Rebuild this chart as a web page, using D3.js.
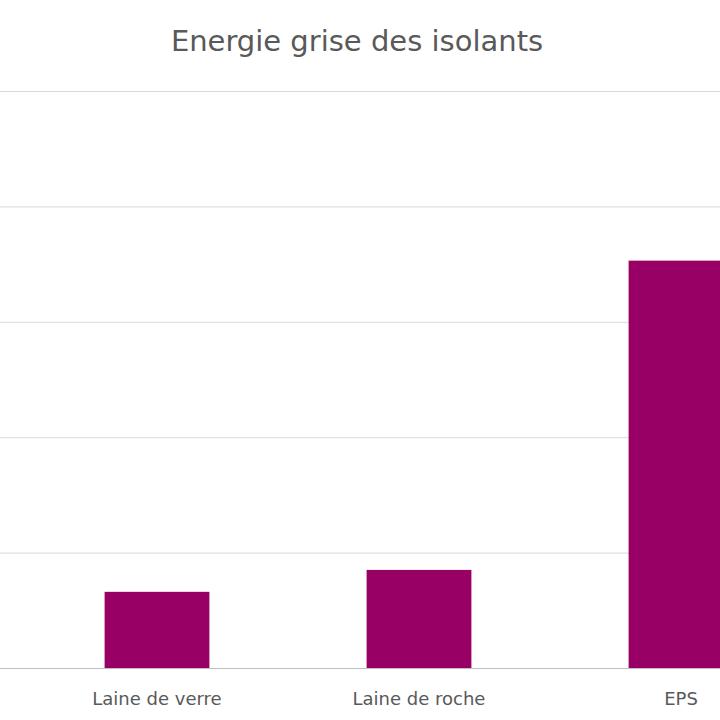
<!DOCTYPE html>
<html><head><meta charset="utf-8">
<script src="https://cdn.jsdelivr.net/npm/d3@7"></script>
<style>body{margin:0;background:#fff}</style>
</head><body>
<svg id="chart" width="720" height="720"></svg>
<script>
var categories = ["Laine de verre", "Laine de roche", "EPS"]
var values = [0.66, 0.85, 3.53]
var yTicks = [0, 1, 2, 3, 4, 5]

var svg = d3.select("#chart")

var x = d3.scaleBand().domain(categories).range([26, 812])
    .paddingInner(0.6).paddingOuter(0.3)
var y = d3.scaleLinear().domain([0, 5]).range([668, 91])

svg.append("g").selectAll("line.grid")
    .data(yTicks)
    .join("line")
    .attr("x1", 0).attr("x2", 720)
    .attr("y1", d => y(d) + 0.5).attr("y2", d => y(d) + 0.5)
    .style("stroke", d => d === 0 ? "#bfbfbf" : "#d9d9d9")
    .style("stroke-width", "1px")

svg.append("g").selectAll("rect.bar")
    .data(values)
    .join("rect")
    .attr("x", (d, i) => x(categories[i]))
    .attr("width", x.bandwidth())
    .attr("y", d => y(d))
    .attr("height", d => y(0) - y(d))
    .style("fill", "#990066")

svg.append("g").selectAll("text.label")
    .data(categories)
    .join("text")
    .attr("x", d => x(d) + x.bandwidth() / 2)
    .attr("y", 705)
    .attr("text-anchor", "middle")
    .style("font-family", "DejaVu Sans, sans-serif")
    .style("font-size", "18px")
    .style("fill", "#595959")
    .text(d => d)

svg.append("text")
    .attr("x", 357).attr("y", 51)
    .attr("text-anchor", "middle")
    .style("font-family", "DejaVu Sans, sans-serif")
    .style("font-size", "29px")
    .style("fill", "#595959")
    .text("Energie grise des isolants")
</script>
</body></html>
